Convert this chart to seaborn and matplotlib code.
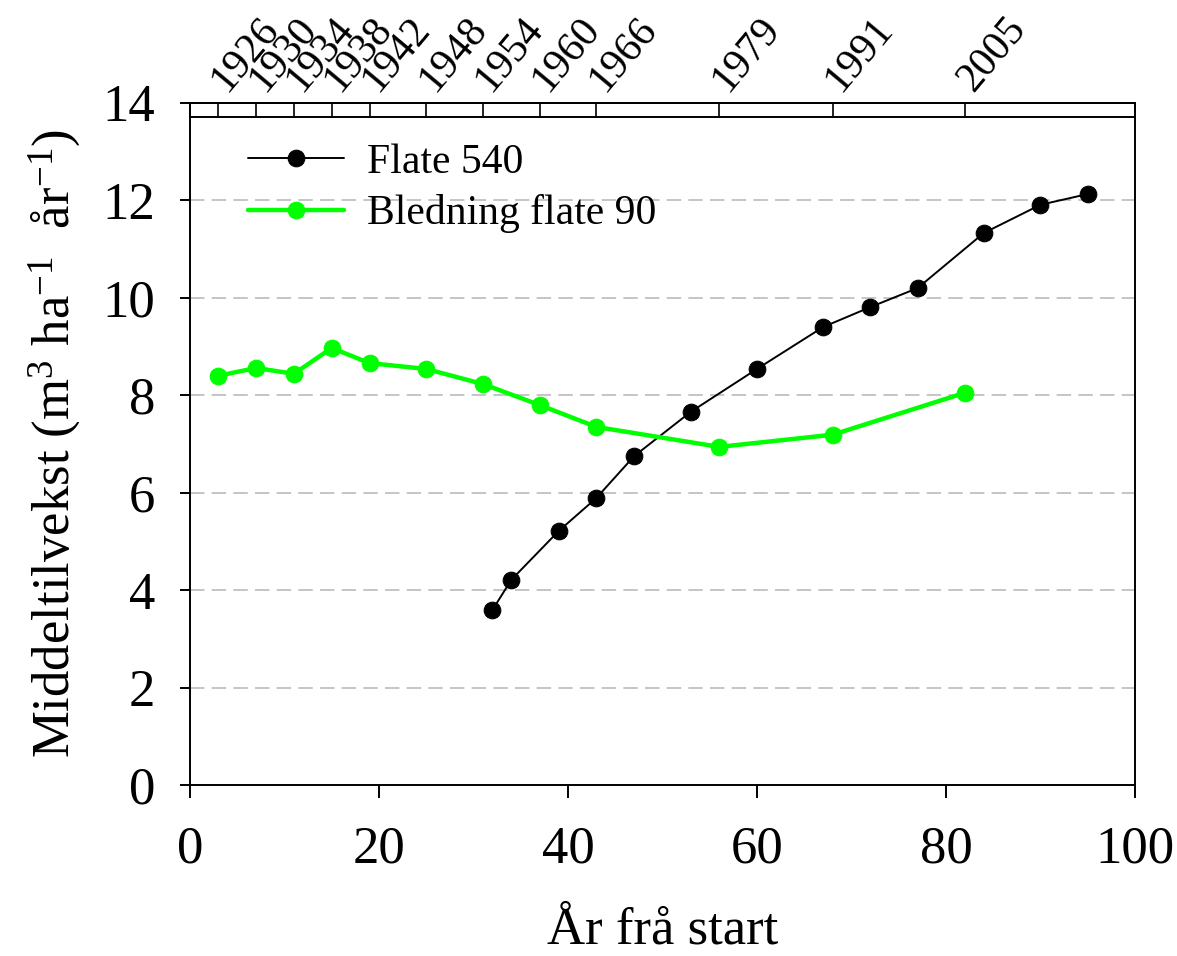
import numpy as np
import pandas as pd
import matplotlib
matplotlib.use("Agg")
import matplotlib.pyplot as plt
import seaborn as sns

# Flate 540
x_540 = [32, 34, 39, 43, 47, 53, 60, 67, 72, 77, 84, 90, 95]
y_540 = [3.59, 4.21, 5.21, 5.89, 6.75, 7.66, 8.54, 9.40, 9.81, 10.20, 11.33, 11.91, 12.13]

# Bledning flate 90
x_90 = [3, 7, 11, 15, 19, 25, 31, 37, 43, 56, 68, 82]
y_90 = [8.40, 8.56, 8.44, 8.97, 8.66, 8.54, 8.23, 7.80, 7.35, 6.94, 7.19, 8.05]

# top axis: calendar years
year_pos = [3, 7, 11, 15, 19, 25, 31, 37, 43, 56, 68, 82]
year_labels = ['1926', '1930', '1934', '1938', '1942', '1948', '1954', '1960',
               '1966', '1979', '1991', '2005']

sns.set_style("white")
plt.rcParams['font.family'] = ['Liberation Serif', 'DejaVu Serif']
plt.rcParams['mathtext.fontset'] = 'custom'
plt.rcParams['mathtext.rm'] = 'Liberation Serif'
plt.rcParams['mathtext.it'] = 'Liberation Serif'
plt.rcParams['text.color'] = 'black'
plt.rcParams['axes.labelcolor'] = 'black'
plt.rcParams['xtick.color'] = 'black'
plt.rcParams['ytick.color'] = 'black'

fig = plt.figure(figsize=(11.77, 9.56), dpi=100)
ax = fig.add_axes([0.1614, 0.1789, 0.8029, 0.7134])

sns.lineplot(x=x_540, y=y_540, ax=ax, color='black', lw=1.4, marker='o',
             markersize=12, markeredgecolor='black', label='Flate 540')
sns.lineplot(x=x_90, y=y_90, ax=ax, color='#00ff00', lw=3.2, marker='o',
             markersize=12, markeredgecolor='#00ff00', label='Bledning flate 90')

ax.set_xlim(0, 100)
ax.set_ylim(0, 14)
ax.set_xticks([0, 20, 40, 60, 80, 100])
ax.set_yticks([0, 2, 4, 6, 8, 10, 12, 14])
for yv in [2, 4, 6, 8, 10, 12]:
    ax.axhline(yv, color='#c0c0c0', lw=1.3, ls=(0, (8, 4)), zorder=0)

for s in ax.spines.values():
    s.set_linewidth(1.4)
    s.set_color('black')
ax.tick_params(axis='x', bottom=True, direction='out', length=9, width=1.4,
               pad=20, labelsize=38)
ax.tick_params(axis='y', left=True, direction='out', length=7, width=1.4,
               pad=18, labelsize=38)

ax.set_xlabel('År frå start', fontsize=38, labelpad=24)
ax.set_ylabel('Middeltilvekst (m$^{3}$ ha$^{-1}$  år$^{-1}$)', fontsize=38, labelpad=14)

leg = ax.legend(loc='upper left', bbox_to_anchor=(0.026, 0.99), frameon=False,
                fontsize=30, handlelength=2.3, handletextpad=0.55,
                labelspacing=0.3, borderaxespad=0.4)

# top strip carrying the calendar years
top = fig.add_axes([0.1614, 0.8776, 0.8029, 0.0147])
top.set_xlim(0, 100)
top.set_yticks([])
top.set_xticks(year_pos)
top.xaxis.tick_top()
top.set_xticklabels(year_labels, rotation=50, ha='left', va='center',
                    rotation_mode='anchor', fontsize=30)
top.tick_params(axis='x', top=True, direction='in', length=10, width=1.2,
                pad=12, bottom=False)
for s in top.spines.values():
    s.set_linewidth(1.4)
    s.set_color('black')
top.patch.set_alpha(0)

fig.savefig('out.png', dpi=100)
